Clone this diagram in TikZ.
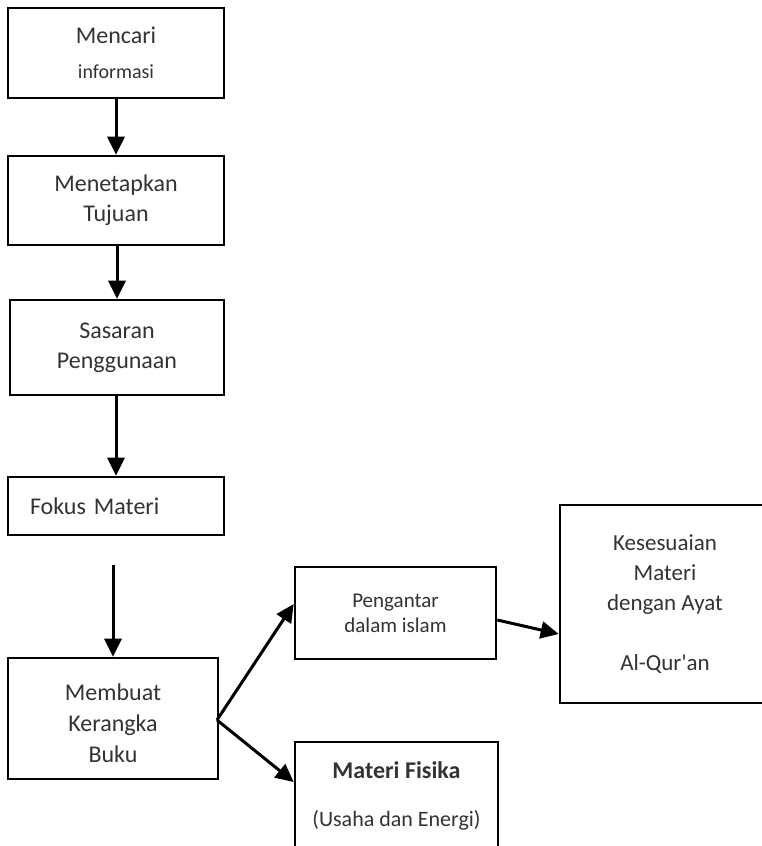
\documentclass[tikz,border=0pt]{standalone}
\usepackage{fontspec}
\setmainfont{Carlito}
\usepackage{tikz}
\usetikzlibrary{positioning,arrows.meta,calc}

\begin{document}
\begin{tikzpicture}[
  x=0.5pt, y=-0.5pt,
  font=\fontsize{12}{15}\selectfont,
  box/.style    = {draw, line width=1.3pt, align=center, inner sep=0pt,
                   text=black!80},
  small/.style  = {font=\fontsize{10.5}{12.5}\selectfont},
  ar/.style     = {-{Triangle[length=9pt, width=8.5pt]}, line width=1.5pt}
]
\useasboundingbox[fill=white] (0,0) rectangle (761,846);

% ---- main column ----------------------------------------------------------
\node[box, minimum width=108pt, minimum height=45pt] (cari) at (116,53)
  {Mencari\\[2.5pt]{\fontsize{10}{12}\selectfont informasi}};

\node[box, minimum width=108pt, minimum height=44.5pt] (tujuan) at (116,200.5)
  {Menetapkan\\Tujuan};

\node[box, minimum width=107pt, minimum height=47.5pt] (sasaran) at (117,347.5)
  {Sasaran\\Penggunaan};

\node[box, minimum height=29pt, text width=86pt, inner xsep=11pt,
      align=left] (fokus) at (116,506)
  {Fokus Materi};

\node[box, font=\fontsize{12}{15.5}\selectfont, minimum width=105pt,
      minimum height=60.5pt] (kerangka) at (113,718.5)
  {\rule{0pt}{13.5pt}Membuat\\Kerangka\\Buku};

\draw[ar] (cari) -- (tujuan);
\draw[ar] ([xshift=0.5pt]tujuan.south) -- ([xshift=0.5pt]sasaran.north -| tujuan.south);
\draw[ar] (sasaran.south -| fokus.north) -- (fokus.north);

\coordinate (gap) at (113,565);
\draw[ar] (gap) -- (kerangka.north);

% ---- branches -------------------------------------------------------------
\node[box, small, minimum width=100.5pt, minimum height=46pt] (pengantar)
  at (395.5,613)
  {Pengantar\\dalam islam};

\node[box, minimum width=101.5pt, minimum height=54pt] (fisika) at (396.5,796)
  {\textbf{Materi Fisika}\\[9pt]{\fontsize{11}{13}\selectfont (Usaha dan Energi)}};

\node[box, font=\fontsize{11.5}{15}\selectfont, minimum width=105pt,
      minimum height=99pt] (ayat) at (665,604)
  {Kesesuaian\\Materi\\dengan Ayat\\[15pt]Al-Qur\textquotesingle an};

\coordinate (split) at (217,720);
\draw[ar] (split) -- ([yshift=4.5pt]pengantar.west);
\draw[ar] (split) -- (fisika.north west |- 0,782);
\draw[ar] ([yshift=-3.5pt]pengantar.east) -- (ayat.west |- 0,634);

\end{tikzpicture}
\end{document}
